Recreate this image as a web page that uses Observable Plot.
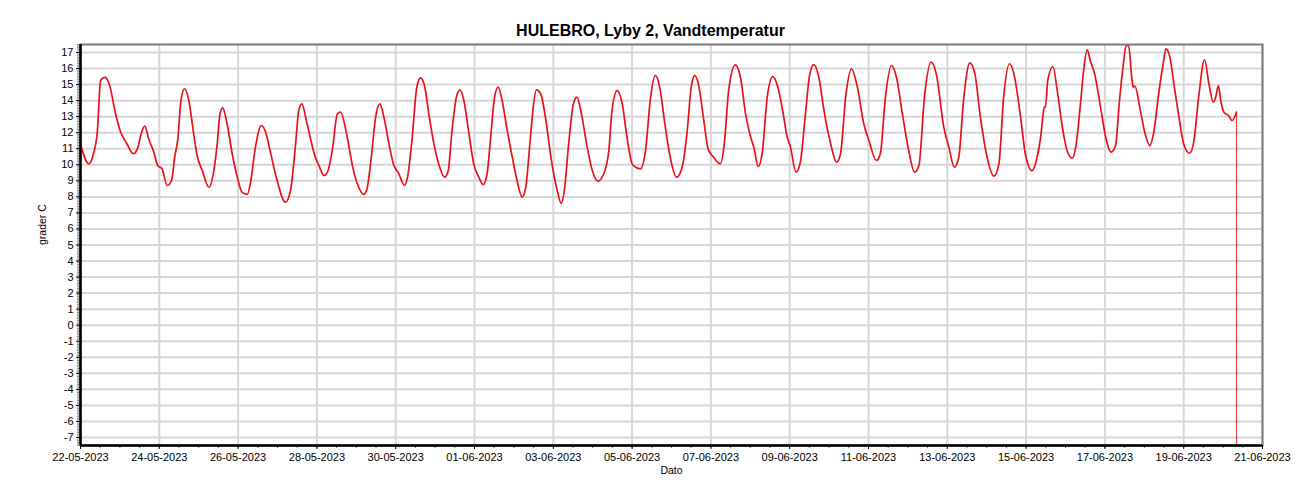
<!DOCTYPE html>
<html>
<head>
<meta charset="utf-8">
<script src="https://cdn.jsdelivr.net/npm/d3@7"></script>
<script src="https://cdn.jsdelivr.net/npm/@observablehq/plot@0.6"></script>
<style>
  html, body { margin: 0; padding: 0; background: #fff; }
  #chart { width: 1300px; height: 500px; }
</style>
</head>
<body>
<div id="chart"></div>
<script>
// ---- data (days since 22-05-2023 00:00, water temperature °C) ----
const startDate = "2023-05-22T00:00:00Z";
const endDate = "2023-06-21T00:00:00Z";
const title = "HULEBRO, Lyby 2, Vandtemperatur";
const yLabel = "grader C";
const xLabel = "Dato";

const dayOffset = [
  0.00,0.21,0.33,0.43,0.51,0.62,0.74,0.89,1.02,1.18,1.34,1.46,1.52,1.63,1.73,1.86,1.96,2.07,2.20,2.31,
  2.39,2.47,2.55,2.64,2.75,2.86,2.96,3.09,3.26,3.37,3.47,3.54,3.61,3.72,3.85,3.98,4.10,4.23,4.31,4.44,
  4.59,4.70,4.82,4.99,5.20,5.33,5.46,5.54,5.62,5.75,5.96,6.05,6.18,6.26,6.39,6.52,6.60,6.77,6.90,7.06,
  7.19,7.28,7.38,7.49,7.60,7.70,7.83,7.94,8.08,8.22,8.30,8.42,8.53,8.63,8.73,8.84,8.97,9.09,9.24,9.33,
  9.43,9.54,9.63,9.73,9.86,9.98,10.11,10.22,10.32,10.41,10.51,10.60,10.70,10.83,10.96,11.08,11.21,11.30,11.42,11.50,
  11.57,11.68,11.80,11.95,12.10,12.20,12.28,12.39,12.51,12.60,12.73,12.86,12.99,13.13,13.28,13.41,13.49,13.62,13.75,13.87,
  14.00,14.09,14.21,14.34,14.47,14.59,14.70,14.82,14.95,15.13,15.27,15.40,15.50,15.59,15.69,15.82,15.93,16.07,16.24,16.34,
  16.45,16.62,16.75,16.88,17.01,17.09,17.20,17.30,17.43,17.57,17.70,17.85,17.92,18.02,18.16,18.27,18.40,18.51,18.61,18.74,
  18.87,19.04,19.19,19.29,19.42,19.57,19.71,19.88,20.01,20.20,20.30,20.43,20.58,20.71,20.86,21.02,21.17,21.28,21.42,21.59,
  21.72,21.91,22.04,22.18,22.29,22.42,22.57,22.70,22.84,23.01,23.18,23.31,23.43,23.58,23.69,23.86,23.98,24.15,24.28,24.37,
  24.44,24.46,24.49,24.55,24.68,24.79,24.92,25.04,25.17,25.26,25.38,25.46,25.55,25.63,25.74,25.89,26.02,26.16,26.27,26.37,
  26.47,26.54,26.60,26.69,26.72,26.76,26.90,27.02,27.14,27.24,27.37,27.48,27.55,27.65,27.75,27.88,28.00,28.15,28.26,28.38,
  28.53,28.64,28.75,28.81,28.88,28.94,29.02,29.14,29.23,29.34
];
const temps = [
  11.3,10.06,10.7,12.14,15.26,15.46,14.94,13.18,12.03,11.3,10.69,11.1,11.76,12.41,11.62,10.79,9.96,9.75,8.71,9.02,
  10.47,11.62,14.01,14.74,14.0,12.14,10.58,9.64,8.6,9.44,11.3,13.18,13.55,12.56,10.69,9.23,8.29,8.15,8.81,11.1,
  12.45,12.03,10.79,9.02,7.67,8.4,11.3,13.39,13.8,12.56,10.47,9.96,9.33,9.5,10.89,13.18,13.28,11.72,9.96,8.6,
  8.15,8.6,10.47,12.97,13.8,12.97,11.3,10.06,9.44,8.71,9.23,11.72,14.74,15.42,14.94,13.18,11.3,10.06,9.23,9.6,
  12.14,14.22,14.68,14.01,11.93,10.06,9.23,8.77,9.44,11.72,14.22,14.84,14.01,12.14,10.47,9.02,7.98,8.6,11.72,13.8,
  14.68,14.43,12.97,10.3,8.4,7.6,8.4,11.3,13.8,14.22,12.97,11.1,9.64,8.98,9.44,10.89,13.39,14.63,13.8,11.72,
  10.06,9.85,9.75,10.89,14.22,15.57,14.84,12.76,10.69,9.23,9.85,12.14,14.84,15.57,14.94,12.76,10.99,10.47,10.06,11.3,
  14.63,16.23,15.46,13.18,11.72,11.1,9.89,10.69,14.22,15.5,14.84,12.97,11.9,11.1,9.54,10.16,13.18,15.67,16.25,15.46,
  13.39,11.3,10.16,10.69,14.22,15.98,14.94,12.56,11.51,10.27,10.69,14.22,16.19,15.46,13.18,10.89,9.54,9.96,14.22,16.4,
  15.67,12.35,11.1,9.85,10.47,14.22,16.36,15.67,12.97,10.47,9.29,10.06,14.22,16.3,15.67,12.97,10.69,9.64,10.47,11.72,
  13.3,13.6,13.59,15.26,16.13,14.63,12.35,10.89,10.41,11.1,13.8,15.88,17.17,16.5,15.67,13.59,11.72,10.79,11.2,14.01,
  16.3,17.44,17.44,15.26,14.84,14.9,13.39,11.93,11.2,12.03,14.53,16.3,17.23,16.71,15.05,12.97,11.3,10.72,11.51,14.22,
  16.55,15.05,13.91,14.2,14.94,14.01,13.28,13.07,12.76,13.28
];
// logger's last record (day offset) and its invalid end value, drawn as the drop to the bottom
const endDayOffset = [29.34, 29.34];
const endTemps = [13.28, -99];

const yTickValues = [-7,-6,-5,-4,-3,-2,-1,0,1,2,3,4,5,6,7,8,9,10,11,12,13,14,15,16,17];
const xTickLabels = ["22-05-2023","24-05-2023","26-05-2023","28-05-2023","30-05-2023","01-06-2023","03-06-2023",
  "05-06-2023","07-06-2023","09-06-2023","11-06-2023","13-06-2023","15-06-2023","17-06-2023","19-06-2023","21-06-2023"];

// ---- build ----
const t0 = new Date(startDate).getTime();
const t1 = new Date(endDate).getTime();
const DAY = 86400000;
const series = dayOffset.map((d, i) => ({date: new Date(t0 + d * DAY), temp: temps[i]}));
const endSeries = endDayOffset.map((d, i) => ({date: new Date(t0 + d * DAY), temp: endTemps[i]}));
const parse = d3.utcParse("%d-%m-%Y");
const xTicks = xTickLabels.map(parse);
const xMinor = d3.range(0, 61).map(i => new Date(t0 + i * DAY / 2));
const yMinor = d3.range(-75, 176).map(i => i / 10);
const fmt = d3.utcFormat("%d-%m-%Y");

const chart = Plot.plot({
  width: 1300,
  height: 500,
  marginLeft: 80,
  marginRight: 38,
  marginTop: 44,
  marginBottom: 55,
  style: {fontFamily: "'Liberation Sans', Arial, sans-serif", fontSize: "11px", color: "#000", background: "#fff", overflow: "visible"},
  x: {type: "utc", domain: [new Date(t0), new Date(t1)]},
  y: {domain: [-7.5, 17.5]},
  marks: [
    Plot.gridY(yTickValues, {stroke: "#d6d6d6", strokeOpacity: 1, strokeWidth: 2}),
    Plot.gridX(xTicks, {stroke: "#d6d6d6", strokeOpacity: 1, strokeWidth: 2}),
    Plot.line(series, {x: "date", y: "temp", stroke: "#e8121b", strokeWidth: 1.7, curve: "monotone-x", clip: true}),
    Plot.line(endSeries, {x: "date", y: "temp", stroke: "#e8121b", strokeWidth: 1.2, strokeOpacity: 0.75, clip: true}),
    Plot.frame({stroke: "#7a7a7a", strokeWidth: 2}),
    Plot.axisY(yMinor, {tickSize: 3, stroke: "#8a8a8a", tickFormat: () => "", label: null}),
    Plot.axisY(yTickValues, {tickSize: 4, tickPadding: 3, tickFormat: d => String(d), label: null}),
    Plot.axisX(xMinor, {tickSize: 3, stroke: "#6a6a6a", tickFormat: () => "", label: null}),
    Plot.axisX(xTicks, {tickSize: 4, tickPadding: 4, tickFormat: fmt, label: null}),
    Plot.ruleX([new Date(t0)], {stroke: "#000", strokeWidth: 2.5}),
    Plot.ruleY([-7.5], {stroke: "#000", strokeWidth: 2.5}),
    Plot.text([title], {frameAnchor: "top", dx: -21, dy: -14, fontWeight: "bold", fontSize: 16, lineAnchor: "middle"}),
    Plot.text([yLabel], {frameAnchor: "left", dx: -38, rotate: -90, fontSize: 10.5}),
    Plot.text([xLabel], {frameAnchor: "bottom", dy: 28, fontSize: 10.5})
  ]
});
document.getElementById("chart").appendChild(chart);
</script>
</body>
</html>
